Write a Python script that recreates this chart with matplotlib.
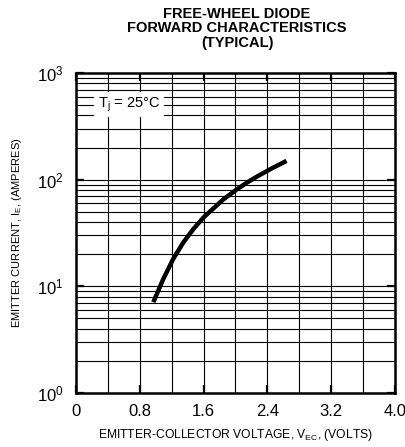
import matplotlib.pyplot as plt
from matplotlib.ticker import FixedLocator, NullFormatter

plt.rcParams['font.family'] = ['Liberation Sans', 'DejaVu Sans']
plt.rcParams['mathtext.default'] = 'regular'

## data
v_ec = [0.97, 1.095, 1.22, 1.345, 1.47, 1.60, 1.85, 2.015, 2.14, 2.27, 2.45, 2.64]
i_e = [7.1, 11.7, 18.1, 25.7, 34.3, 44.3, 65.5, 80.9, 93.5, 107.0, 127.0, 150.0]

x_ticks = [0, 0.8, 1.6, 2.4, 3.2, 4.0]
x_tick_labels = ['0', '0.8', '1.6', '2.4', '3.2', '4.0']
x_grid = [0.4, 0.8, 1.2, 1.6, 2.0, 2.4, 2.8, 3.2, 3.6]
decades = [1, 10, 100]

fig = plt.figure(figsize=(4.06, 4.47), dpi=100)
ax = fig.add_axes([0.187, 0.1208, 0.786, 0.7159])

ax.set_yscale('log')
ax.set_xlim(0, 4.0)
ax.set_ylim(1, 1000)

## grid
for xv in x_grid:
    ax.axvline(xv, color='black', lw=0.8, zorder=1)
for dec in decades:
    for m in range(1, 10):
        if dec * m == 1:
            continue
        ax.axhline(dec * m, color='black', lw=0.8, zorder=1)

ax.plot(v_ec, i_e, color='black', lw=3.2, solid_capstyle='butt', zorder=3)

ax.set_xticks(x_ticks)
ax.set_xticklabels(x_tick_labels)
ax.yaxis.set_major_locator(FixedLocator([1, 10, 100, 1000]))
ax.yaxis.set_minor_locator(FixedLocator([]))
ax.yaxis.set_minor_formatter(NullFormatter())
ax.tick_params(axis='both', which='major', direction='in', length=6, width=1.6,
               top=True, right=True, labelsize=12)
ax.tick_params(axis='x', pad=8)
ax.tick_params(axis='y', pad=9)

for s in ax.spines.values():
    s.set_linewidth(1.8)

ax.set_xlabel('EMITTER-COLLECTOR VOLTAGE, V$_{EC}$, (VOLTS)', fontsize=8.7, labelpad=6)
ax.set_ylabel('EMITTER CURRENT, I$_E$, (AMPERES)', fontsize=8, labelpad=9)

ax.text(0.276, 508, 'T$_j$ = 25°C', fontsize=10.5, va='center', ha='left', zorder=4,
        bbox=dict(facecolor='white', edgecolor='none', pad=2.5))

fig.text(0.584, 0.985, 'FREE-WHEEL DIODE\nFORWARD CHARACTERISTICS\n(TYPICAL)',
         ha='center', va='top', fontsize=10.5, fontweight='bold', linespacing=1.05)

fig.savefig('out.png', dpi=100)
